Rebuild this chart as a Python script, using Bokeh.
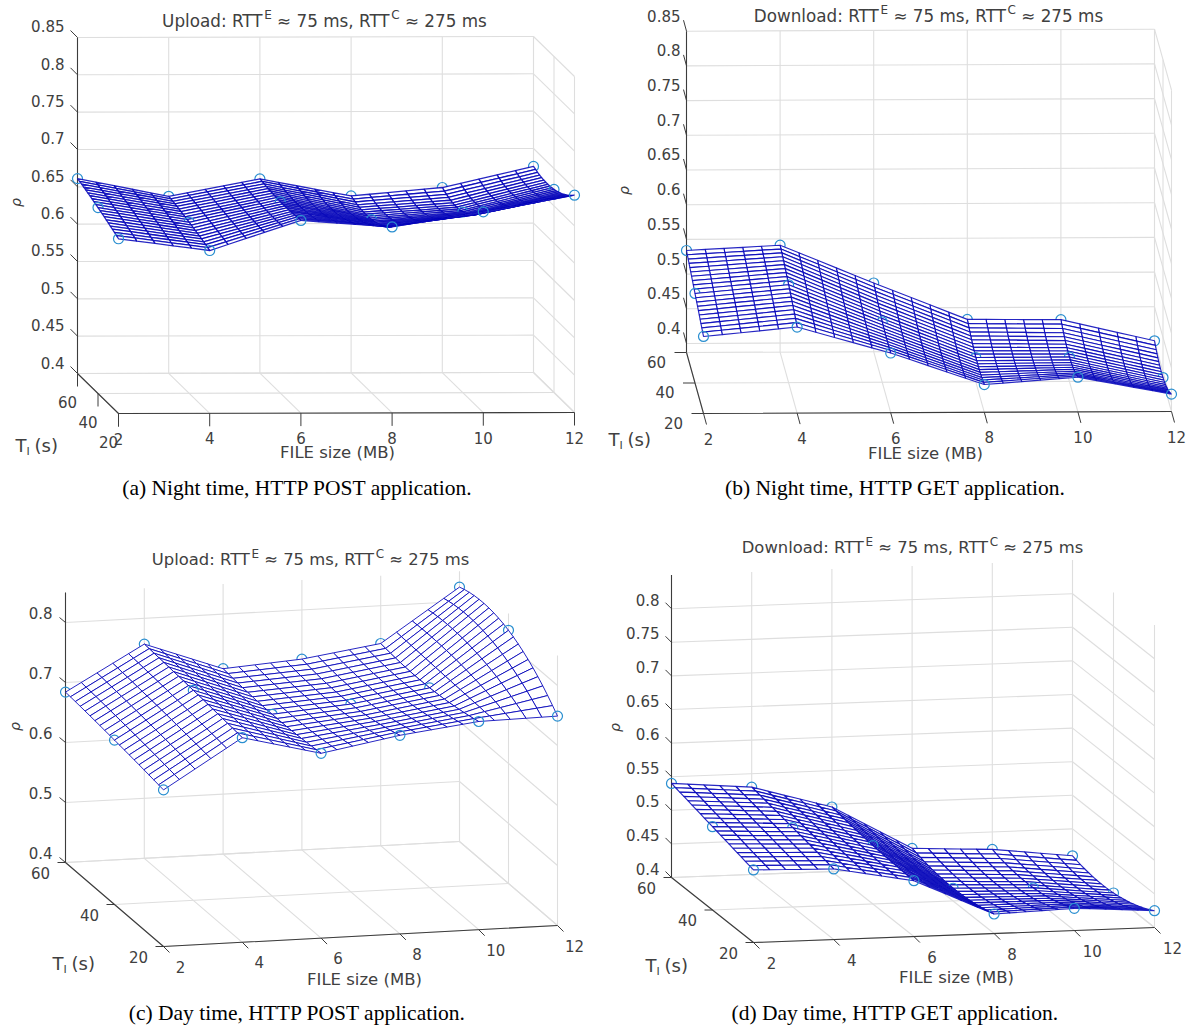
from bokeh.plotting import figure
from bokeh.models import Range1d
from bokeh.embed import file_html
from bokeh.resources import INLINE
from bokeh.core.properties import value
import numpy as np

# ---------- values ----------
FILE_SIZES = [2, 4, 6, 8, 10, 12]
T_I_VALUES = [60, 40, 20]          # back, middle and front rows

# (a) Night, POST
RHO_A_60 = [0.661, 0.637, 0.660, 0.637, 0.648, 0.676]
RHO_A_40 = [0.649, 0.629, 0.656, 0.632, 0.642, 0.672]
RHO_A_20 = [0.634, 0.618, 0.658, 0.649, 0.669, 0.691]
# (b) Night, GET
RHO_B_60 = [0.534, 0.541, 0.486, 0.433, 0.432, 0.401]
RHO_B_40 = [0.516, 0.528, 0.474, 0.422, 0.422, 0.392]
RHO_B_20 = [0.498, 0.511, 0.473, 0.427, 0.437, 0.412]
# (c) Day, POST
RHO_C_60 = [0.684, 0.757, 0.709, 0.718, 0.737, 0.824]
RHO_C_40 = [0.674, 0.750, 0.703, 0.713, 0.733, 0.822]
RHO_C_20 = [0.661, 0.741, 0.708, 0.731, 0.747, 0.749]
# (d) Day, GET
RHO_D_60 = [0.540, 0.530, 0.496, 0.430, 0.424, 0.410]
RHO_D_40 = [0.524, 0.518, 0.487, 0.419, 0.415, 0.403]
RHO_D_20 = [0.508, 0.505, 0.483, 0.429, 0.433, 0.425]

TITLE_UP = ["Upload: RTT", "E", "≈ 75 ms, RTT", "C", "≈ 275 ms"]
TITLE_DOWN = ["Download: RTT", "E", "≈ 75 ms, RTT", "C", "≈ 275 ms"]
CAPTIONS = ["(a) Night time, HTTP POST application.", "(b) Night time, HTTP GET application.",
            "(c) Day time, HTTP POST application.", "(d) Day time, HTTP GET application."]
Z_LABELS_A = ["0.4", "0.45", "0.5", "0.55", "0.6", "0.65", "0.7", "0.75", "0.8", "0.85"]
Z_LABELS_C = ["0.4", "0.5", "0.6", "0.7", "0.8"]
Z_LABELS_D = ["0.4", "0.45", "0.5", "0.55", "0.6", "0.65", "0.7", "0.75", "0.8"]

# ---------- layout of each 3-D box, in page pixels ----------
PANELS = [
    dict(rho=[RHO_A_60, RHO_A_40, RHO_A_20], title=TITLE_UP, cap=CAPTIONS[0], zl=Z_LABELS_A,
         o=(77, 373), vx=(456, -1), vt=(41, 40), k=746.7, zmin=0.4, ts=16.8, mw=1.3,
         ztick=(-7, -7), xtick=(0, 13), ttick=(0, 13), zlab=(64, -11),
         xlab=(0, 25), tlab=(-10, 28), title_c=(324, 20), cap_c=(297, 487),
         flab=(337, 452), til=(15, 445), rho_p=(15, 202)),
    dict(rho=[RHO_B_60, RHO_B_40, RHO_B_20], title=TITLE_DOWN, cap=CAPTIONS[1], zl=Z_LABELS_A,
         o=(686, 352), vx=(468, -2), vt=(17, 61), k=694, zmin=0.387, ts=16.8, mw=1.15,
         ztick=(-3, -11), xtick=(3, 11), ttick=(-12, 0), zlab=(680, -15.5),
         xlab=(5, 25), tlab=(-30, 9), title_c=(928, 15), cap_c=(895, 487),
         flab=(925, 453), til=(608, 439), rho_p=(623, 190)),
    dict(rho=[RHO_C_60, RHO_C_40, RHO_C_20], title=TITLE_UP, cap=CAPTIONS[2], zl=Z_LABELS_C,
         o=(65, 862), vx=(394, -21), vt=(98, 84), k=600, zmin=0.4, ts=16.4, mw=1.0,
         ztick=(-6, -5), xtick=(6, 6), ttick=(-8, 0), zlab=(52, -10),
         xlab=(17, 20), tlab=(-25, 10), title_c=(310, 559), cap_c=(297, 1012),
         flab=(364, 979), til=(52, 963), rho_p=(14, 726)),
    dict(rho=[RHO_D_60, RHO_D_40, RHO_D_20], title=TITLE_DOWN, cap=CAPTIONS[3], zl=Z_LABELS_D,
         o=(671, 877), vx=(401, -15), vt=(82, 65), k=672, zmin=0.4, ts=16.4, mw=1.15,
         ztick=(-6, -6), xtick=(6, 6), ttick=(-8, 0), zlab=(659, -9),
         xlab=(18, 20), tlab=(-25, 10), title_c=(912, 547), cap_c=(895, 1012),
         flab=(956, 977), til=(645, 965), rho_p=(614, 727)),
]

GRID = "#dedede"
AXIS = "#3c3c3c"
TEXT = "#404040"
MESH = "#0000b8"
MARK = "#2a8fd0"
TICK_PX = "15px"
SANS = "DejaVu Sans"
Z_TOP = 0.85

EM = {' ': .318, ',': .318, 'm': .974, 's': .521, 'R': .695, 'T': .611, 'D': .770, 'o': .612, 'w': .818,
      'n': .634, 'l': .278, 'a': .613, 'd': .635, ':': .337, 'U': .732, 'p': .635, 'E': .632, 'C': .698,
      '≈': .838, '7': .636, '5': .636, '2': .636}


def width(s, px):
    return sum(EM.get(c, .6) for c in s) * px


p = figure(width=1193, height=1026, x_range=Range1d(0, 1193), y_range=Range1d(1026, 0),
           toolbar_location=None, output_backend="svg", min_border=0, outline_line_color=None)
p.axis.visible = False
p.grid.visible = False


def txt(x, y, s, size, color=TEXT, font=SANS, align="left", base="middle", angle=0.0, style="normal"):
    p.text([x], [y], [s], text_font=value(font), text_font_size=size, text_color=color, text_align=align,
           text_baseline=base, angle=angle, text_font_style=style)


def surface(rows, f, t):
    """Surface through the three rows: straight between file sizes, smooth across T_I."""
    r = np.array(rows, dtype=float)
    by_t = np.array([np.interp(f, FILE_SIZES, r[i]) for i in range(3)])
    ts = np.array(T_I_VALUES, dtype=float)
    out = 0.0
    for i in range(3):
        w = 1.0
        for j in range(3):
            if j != i:
                w *= (t - ts[j]) / (ts[i] - ts[j])
        out += w * by_t[i]
    return out


for P in PANELS:
    ox, oy = P["o"]
    vx, vt, k = P["vx"], P["vt"], P["k"]
    Z_MIN = P["zmin"]

    def proj(f, t, rho):
        a = (f - 2) / 10.0
        b = (60 - t) / 40.0
        return ox + a * vx[0] + b * vt[0], oy + a * vx[1] + b * vt[1] - (rho - Z_MIN) * k

    zvals = [float(s) for s in P["zl"]]
    # grid: back wall, right wall, floor
    gx, gy = [], []

    def seg(a, b):
        gx.append([a[0], b[0]])
        gy.append([a[1], b[1]])

    for z in zvals:
        seg(proj(2, 60, z), proj(12, 60, z))
        seg(proj(12, 60, z), proj(12, 20, z))
    for f in FILE_SIZES:
        seg(proj(f, 60, Z_MIN), proj(f, 60, Z_TOP))
        seg(proj(f, 60, Z_MIN), proj(f, 20, Z_MIN))
    for t in T_I_VALUES:
        seg(proj(12, t, Z_MIN), proj(12, t, Z_TOP))
        seg(proj(2, t, Z_MIN), proj(12, t, Z_MIN))
    p.multi_line(gx, gy, line_color=GRID, line_width=1.1)

    # axes
    ax = [proj(2, 60, Z_MIN), proj(2, 60, Z_TOP)]
    p.line([q[0] for q in ax], [q[1] for q in ax], line_color=AXIS, line_width=1.1)
    ax = [proj(2, 60, Z_MIN), proj(2, 20, Z_MIN), proj(12, 20, Z_MIN)]
    p.line([q[0] for q in ax], [q[1] for q in ax], line_color=AXIS, line_width=1.1)

    tx, ty = [], []
    for z in zvals:
        a = proj(2, 60, z)
        tx.append([a[0], a[0] + P["ztick"][0]])
        ty.append([a[1], a[1] + P["ztick"][1]])
    for f in FILE_SIZES:
        a = proj(f, 20, Z_MIN)
        tx.append([a[0], a[0] + P["xtick"][0]])
        ty.append([a[1], a[1] + P["xtick"][1]])
    for t in T_I_VALUES:
        a = proj(2, t, Z_MIN)
        tx.append([a[0], a[0] + P["ttick"][0]])
        ty.append([a[1], a[1] + P["ttick"][1]])
    p.multi_line(tx, ty, line_color=AXIS, line_width=1.0)

    # tick labels
    for s, z in zip(P["zl"], zvals):
        a = proj(2, 60, z)
        txt(P["zlab"][0], a[1] + P["zlab"][1], s, TICK_PX, align="right")
    for f in FILE_SIZES:
        a = proj(f, 20, Z_MIN)
        txt(a[0] + P["xlab"][0], a[1] + P["xlab"][1], str(f), TICK_PX, align="center")
    for t in T_I_VALUES:
        a = proj(2, t, Z_MIN)
        txt(a[0] + P["tlab"][0], a[1] + P["tlab"][1], str(t), TICK_PX, align="center")

    # axis labels
    txt(P["flab"][0], P["flab"][1], "FILE size (MB)", "16.5px", align="center")
    tix, tiy = P["til"]
    txt(tix, tiy, "T", "18px")
    txt(tix + 11, tiy + 6, "I", "11px")
    txt(tix + 19, tiy, "(s)", "18px")
    txt(P["rho_p"][0], P["rho_p"][1], "ρ", "14px", align="center", angle=np.pi / 2, style="italic")

    # title, assembled from normal and raised pieces
    pieces = P["title"]
    ts = P["ts"]
    gap = 0.318 * ts
    total = sum(width(s, ts if i % 2 == 0 else 12) for i, s in enumerate(pieces)) + 2 * gap
    cx = P["title_c"][0] - total / 2
    cy = P["title_c"][1]
    for i, s in enumerate(pieces):
        if i % 2 == 0:
            txt(cx, cy, s, f"{ts}px")
            cx += width(s, ts)
        else:
            txt(cx, cy - 6, s, "12px")
            cx += width(s, 12) + gap

    # caption
    txt(P["cap_c"][0], P["cap_c"][1], P["cap"], "21.5px", color="#000000", font="Liberation Serif", align="center")

    # wire surface with hidden-line faces, drawn from the back to the front
    f_mesh = np.linspace(2, 12, 26)
    t_mesh = np.linspace(60, 20, 21)
    rows = P["rho"]

    def markers(i):
        pts = [proj(f, T_I_VALUES[i], rows[i][j]) for j, f in enumerate(FILE_SIZES)]
        p.scatter([q[0] for q in pts], [q[1] for q in pts], marker="circle", size=10, fill_color=None,
                  line_color=MARK, line_width=1.2)

    def cells(t_from, t_to):
        xs, ys = [], []
        for i in range(len(t_mesh) - 1):
            t0, t1 = t_mesh[i], t_mesh[i + 1]
            if t0 > t_from or t1 < t_to:
                continue
            for j in range(len(f_mesh) - 2, -1, -1):
                f0, f1 = f_mesh[j], f_mesh[j + 1]
                q = [proj(f0, t0, surface(rows, f0, t0)), proj(f1, t0, surface(rows, f1, t0)),
                     proj(f1, t1, surface(rows, f1, t1)), proj(f0, t1, surface(rows, f0, t1))]
                xs.append([c[0] for c in q])
                ys.append([c[1] for c in q])
        p.patches(xs, ys, fill_color="#ffffff", line_color=MESH, line_width=P["mw"], line_alpha=0.85)

    markers(0)
    cells(60, 40)
    markers(1)
    cells(40, 20)
    markers(2)

open("out.html", "w").write(file_html(p, INLINE))
